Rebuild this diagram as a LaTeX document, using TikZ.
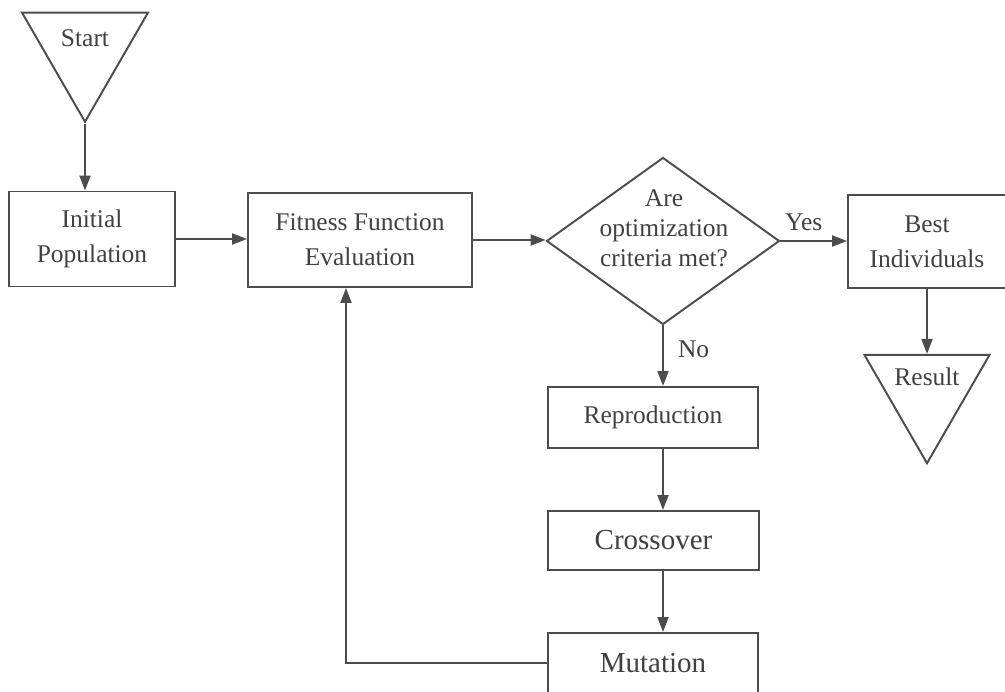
\documentclass[tikz,border=0pt]{standalone}
\usepackage{fontspec}
\setmainfont{Liberation Serif}
\usetikzlibrary{shapes.geometric, arrows.meta}

\tikzset{
  box/.style={draw=black!70, line width=1.1pt, rectangle, inner sep=0pt, text=black!75, align=center},
  tri/.style={draw=black!70, line width=1.1pt, regular polygon, regular polygon sides=3, shape border rotate=180, inner sep=0pt},
  dia/.style={draw=black!70, line width=1.1pt, diamond, inner sep=0pt},
  txt/.style={text=black!75, align=center, inner sep=0pt},
  arr/.style={draw=black!70, line width=1.1pt, -{Triangle[length=0.3cm, width=0.22cm]}}
}

\begin{document}
\begin{tikzpicture}[x=0.02cm, y=-0.02cm, font=\fontsize{14.5}{20}\selectfont]
\useasboundingbox (0,0) rectangle (1005,692);

% start and the first row
\node[tri, minimum size=2.91cm] (start) at (85,49) {};
\node[txt] (startlbl) at (85,38) {Start};
\node[box, minimum width=3.32cm, minimum height=1.9cm] (init) at (92,239) {Initial\\Population};
\node[box, minimum width=4.48cm, minimum height=1.88cm] (fit) at (360,240) {Fitness Function\\Evaluation};
\node[dia, minimum width=4.66cm, minimum height=3.34cm] (dec) at (663,241) {};
\node[txt, font=\fontsize{14.5}{17}\selectfont] (declbl) at (664,228) {Are\\optimization\\criteria met?};
\node[box, minimum width=3.16cm, minimum height=1.86cm] (best) at (927,241.5) {Best\\Individuals};
\node[tri, minimum size=2.89cm] (result) at (927,391) {};
\node[txt] (resultlbl) at (927,377) {Result};

% the loop
\node[box, minimum width=4.2cm, minimum height=1.22cm] (rep) at (653,417.5) {Reproduction};
\node[box, minimum width=4.22cm, minimum height=1.18cm, font=\fontsize{16.5}{20}\selectfont] (cross) at (653.5,540.5) {Crossover};
\node[box, minimum width=4.2cm, minimum height=1.2cm, font=\fontsize{16.5}{20}\selectfont] (mut) at (653,663) {Mutation};
\coordinate (loop) at (346,663);

\draw[arr] (start.corner 1) -- (start.corner 1 |- init.north);
\draw[arr] (init.east) -- (init.east -| fit.west);
\draw[arr] (fit.east) -- (fit.east -| dec.west);
\draw[arr] (dec.east) -- node[txt, pos=0.35, above=5pt] (yes) {Yes} (dec.east -| best.west);
\draw[arr] (best.south) -- (best.south |- result.corner 2);
\draw[arr] (dec.south) -- node[txt, pos=0.39, right=8pt] (no) {No} (dec.south |- rep.north);
\draw[arr] (dec.south |- rep.south) -- (dec.south |- cross.north);
\draw[arr] (dec.south |- cross.south) -- (dec.south |- mut.north);
\draw[arr] (mut.west) -- (loop) -- (loop |- fit.south);
\end{tikzpicture}
\end{document}
